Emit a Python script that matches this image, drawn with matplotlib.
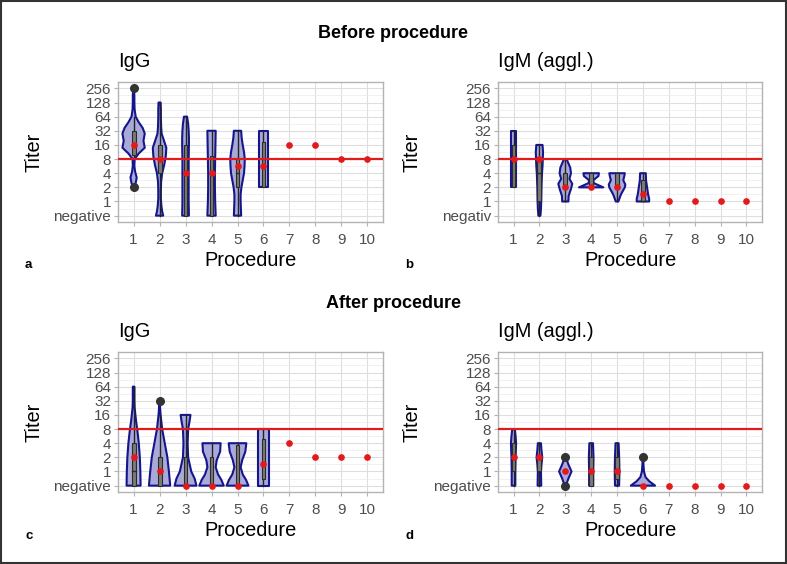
import numpy as np
import matplotlib
matplotlib.use("Agg")
import matplotlib.pyplot as plt
from matplotlib.patches import Rectangle

plt.rcParams['font.family'] = ['Liberation Sans', 'DejaVu Sans']

# ------------------------------------------------------------------ data
# titer level: 0 = negative, 1 = 1, 2 = 2, 3 = 4, 4 = 8, ... 9 = 256
procedures = [1, 2, 3, 4, 5, 6, 7, 8, 9, 10]
titer_labels = ['negative', '1', '2', '4', '8', '16', '32', '64', '128', '256']
cutoff_level = 4  # titer 8

# ---- a: before, IgG
a_levels = [[2, 2.3, 2.7, 3.1, 3.5, 4, 4.4, 4.8, 5.3, 5.8, 6.2, 6.6, 7, 7.5, 8, 8.5, 9],
            [0, 0.3, 0.7, 1.2, 1.8, 2.4, 3, 3.6, 4.2, 4.8, 5.3, 5.8, 6.3, 7, 7.5, 8],
            [0, 1, 2, 3, 4, 5, 5.5, 6, 6.5, 7],
            [0, 1, 2, 3, 4, 5, 6],
            [0, 1, 1.5, 2, 2.5, 3, 3.5, 4, 4.5, 5, 5.5, 6],
            [2, 6]]
a_widths = [[0.01, 0.08, 0.12, 0.06, 0.03, 0.04, 0.2, 0.43, 0.38, 0.43, 0.35, 0.2, 0.08, 0.04, 0.03, 0.03, 0.01],
            [0.14, 0.1, 0.07, 0.05, 0.05, 0.06, 0.1, 0.18, 0.24, 0.26, 0.17, 0.08, 0.06, 0.05, 0.05, 0.04],
            [0.13, 0.12, 0.12, 0.12, 0.12, 0.13, 0.13, 0.12, 0.1, 0.06],
            [0.16, 0.14, 0.13, 0.13, 0.14, 0.15, 0.16],
            [0.14, 0.12, 0.12, 0.15, 0.2, 0.25, 0.27, 0.28, 0.25, 0.2, 0.16, 0.14],
            [0.19, 0.19]]
a_boxes = [(4, 4.3, 5, 6, 7), (0, 3, 4, 5, 8), (0, 0, 3, 5, 7),
           (0, 0, 3, 4.2, 6), (0, 2, 3, 4, 6), (2, 2, 4, 5.2, 6)]
a_outliers = [[2, 9], [], [], [], [], []]
a_means = [5, 4, 3, 3, 3.5, 3.5, 5, 5, 4, 4]

# ---- b: before, IgM (aggl.)
b_levels = [[2, 6],
            [0, 0.5, 1, 2, 3, 3.5, 4, 4.5, 5],
            [1, 1.4, 1.9, 2.25, 2.6, 3.0, 3.4, 4],
            [2, 2.3, 2.5, 2.8, 3],
            [1, 1.5, 2, 2.2, 2.5, 2.8, 3],
            [1, 1.2, 1.5, 2, 2.5, 3]]
b_widths = [[0.11, 0.11],
            [0.04, 0.06, 0.07, 0.08, 0.1, 0.12, 0.13, 0.14, 0.12],
            [0.12, 0.13, 0.22, 0.27, 0.16, 0.22, 0.19, 0.05],
            [0.47, 0.1, 0.08, 0.28, 0.3],
            [0.05, 0.15, 0.3, 0.32, 0.24, 0.28, 0.3],
            [0.24, 0.24, 0.2, 0.16, 0.12, 0.11]]
b_boxes = [(2, 2, 4, 5, 6), (0, 1, 3, 4, 5), (1, 2, 2, 3, 4),
           (2, 2, 2, 3, 3), (1, 2, 2, 3, 3), (1, 1, 1, 2.5, 3)]
b_outliers = [[], [], [], [], [], []]
b_means = [4, 4, 2, 2, 2, 1.55, 1, 1, 1, 1]

# ---- c: after, IgG
c_levels = [[0, 1, 2, 3, 4, 4.5, 5, 5.5, 6, 7],
            [0, 1, 2, 3, 4, 5, 5.5, 6],
            [0, 0.5, 1, 2, 3, 4, 4.5, 5],
            [0, 0.4, 0.8, 1.3, 1.8, 2.4, 3],
            [0, 0.4, 0.8, 1.3, 1.8, 2.4, 3],
            [0, 4]]
c_widths = [[0.27, 0.26, 0.24, 0.2, 0.14, 0.1, 0.07, 0.04, 0.03, 0.03],
            [0.41, 0.36, 0.3, 0.2, 0.1, 0.04, 0.02, 0.02],
            [0.42, 0.35, 0.22, 0.1, 0.08, 0.1, 0.15, 0.19],
            [0.47, 0.38, 0.25, 0.16, 0.2, 0.33, 0.35],
            [0.42, 0.33, 0.2, 0.12, 0.18, 0.3, 0.34],
            [0.22, 0.22]]
c_boxes = [(0, 0, 1, 3, 7), (0, 0, 1, 2, 5), (0, 0, 0, 2, 5),
           (0, 0, 0, 2, 3), (0, 0, 0, 2.9, 3), (0, 0.5, 1.5, 3.3, 4)]
c_outliers = [[], [6], [], [], [], []]
c_means = [2, 1, 0, 0, 0, 1.5, 3, 2, 2, 2]

# ---- d: after, IgM (aggl.)
d_levels = [[0, 1, 2, 3, 3.5, 4],
            [0, 1, 1.5, 2, 2.5, 3],
            [0, 0.5, 1, 1.5, 2],
            [0, 1, 2, 3],
            [0, 1, 2, 3],
            [0, 0.3, 0.6, 1, 1.5, 2]]
d_widths = [[0.07, 0.07, 0.08, 0.1, 0.08, 0.05],
            [0.07, 0.06, 0.08, 0.11, 0.08, 0.06],
            [0.02, 0.12, 0.24, 0.12, 0.02],
            [0.08, 0.08, 0.09, 0.07],
            [0.08, 0.09, 0.08, 0.06],
            [0.47, 0.25, 0.1, 0.04, 0.02, 0.01]]
d_boxes = [(0, 1, 2, 3, 4), (0, 1, 2, 2, 3), (1, 1, 1, 1, 1),
           (0, 0, 1, 2, 3), (0, 0.5, 1, 2, 3), (0, 0, 0, 0, 0)]
d_outliers = [[], [], [0, 2], [], [], [2]]
d_means = [2, 2, 1, 1, 1, 0, 0, 0, 0, 0]

# ------------------------------------------------------------------ helpers
W, H = 787, 564

def fx(px):
    return px / W

def fy(py):
    return 1 - py / H

def draw_panel(ax, levels, widths, boxes, outliers, means, labels, ylab_x):
    ax.set_xlim(0.4, 10.6)
    ax.set_ylim(-0.45, 9.45)
    ax.set_xticks(procedures)
    ax.set_yticks(range(10))
    ax.set_yticks(np.arange(0.5, 9.5, 1), minor=True)
    ax.set_yticklabels(labels)
    ax.grid(True, which='major', color='#dedede', lw=0.8)
    ax.grid(True, which='minor', axis='y', color='#ececec', lw=0.5)
    ax.set_axisbelow(True)
    for s in ax.spines.values():
        s.set_color('#b3b3b3')
        s.set_linewidth(1.0)
    ax.tick_params(which='major', colors='#b3b3b3', labelcolor='#4d4d4d',
                   labelsize=11, length=3, width=0.8, pad=2)
    ax.tick_params(axis='x', which='major', pad=5)
    ax.tick_params(which='minor', length=0)
    ax.set_xlabel('Procedure', fontsize=14.4)
    ax.set_ylabel('Titer', fontsize=14.4)
    ax.xaxis.set_label_coords(0.5, -0.207)
    ax.yaxis.set_label_coords(ylab_x, 0.5)

    for i in range(len(levels)):
        x = procedures[i]
        lev = np.asarray(levels[i], float)
        hw = np.asarray(widths[i], float)
        xs = np.concatenate([x - hw, (x + hw)[::-1]])
        ys = np.concatenate([lev, lev[::-1]])
        ax.fill(xs, ys, facecolor='#aaaad8', edgecolor='#16168c', lw=1.5,
                joinstyle='round', zorder=2)
        lo, q1, med, q3, hi = boxes[i]
        ax.plot([x, x], [lo, q1], color='#222222', lw=1, zorder=3)
        ax.plot([x, x], [q3, hi], color='#222222', lw=1, zorder=3)
        ax.add_patch(Rectangle((x - 0.075, q1), 0.15, q3 - q1,
                               facecolor='#7a7a7a', edgecolor='#2b2b2b',
                               lw=0.8, zorder=3))
        ax.plot([x - 0.075, x + 0.075], [med, med], color='#2b2b2b', lw=1, zorder=3)
        if outliers[i]:
            ax.plot([x] * len(outliers[i]), outliers[i], 'o', color='#333333',
                    ms=5.5, zorder=4)

    ax.axhline(cutoff_level, color='#e31a1c', lw=1.6, zorder=5)
    ax.plot(procedures, means, 'o', color='#e31a1c', ms=3.8, zorder=6)


# ------------------------------------------------------------------ figure
fig = plt.figure(figsize=(W / 100, H / 100), dpi=100)

ax_a = fig.add_axes([fx(118), fy(222), 265 / W, 140 / H])
ax_b = fig.add_axes([fx(498), fy(222), 264 / W, 140 / H])
ax_c = fig.add_axes([fx(118), fy(492), 265 / W, 140 / H])
ax_d = fig.add_axes([fx(498), fy(492), 264 / W, 140 / H])

b_labels = ['negativ'] + titer_labels[1:]

draw_panel(ax_a, a_levels, a_widths, a_boxes, a_outliers, a_means, titer_labels, -0.283)
draw_panel(ax_b, b_levels, b_widths, b_boxes, b_outliers, b_means, b_labels, -0.288)
draw_panel(ax_c, c_levels, c_widths, c_boxes, c_outliers, c_means, titer_labels, -0.283)
draw_panel(ax_d, d_levels, d_widths, d_boxes, d_outliers, d_means, titer_labels, -0.288)

# group titles
fig.text(fx(393), fy(38), 'Before procedure', ha='center', va='baseline',
         fontsize=13, fontweight='bold')
fig.text(fx(393), fy(308), 'After procedure', ha='center', va='baseline',
         fontsize=13, fontweight='bold')

# panel titles
fig.text(fx(118), fy(67), 'IgG', ha='left', va='baseline', fontsize=14.4)
fig.text(fx(498), fy(67), 'IgM (aggl.)', ha='left', va='baseline', fontsize=14.4)
fig.text(fx(118), fy(337), 'IgG', ha='left', va='baseline', fontsize=14.4)
fig.text(fx(498), fy(337), 'IgM (aggl.)', ha='left', va='baseline', fontsize=14.4)

# panel letters
for letter, px, py in [('a', 25, 268), ('b', 405, 268), ('c', 25, 539), ('d', 405, 539)]:
    fig.text(fx(px), fy(py), letter, ha='left', va='baseline', fontsize=9.5,
             fontweight='bold')

# outer frame
fig.patches.append(Rectangle((0.001, 0.001), 0.998, 0.997, transform=fig.transFigure,
                             fill=False, edgecolor='#333333', lw=1.5))

fig.savefig('out.png', dpi=100)
